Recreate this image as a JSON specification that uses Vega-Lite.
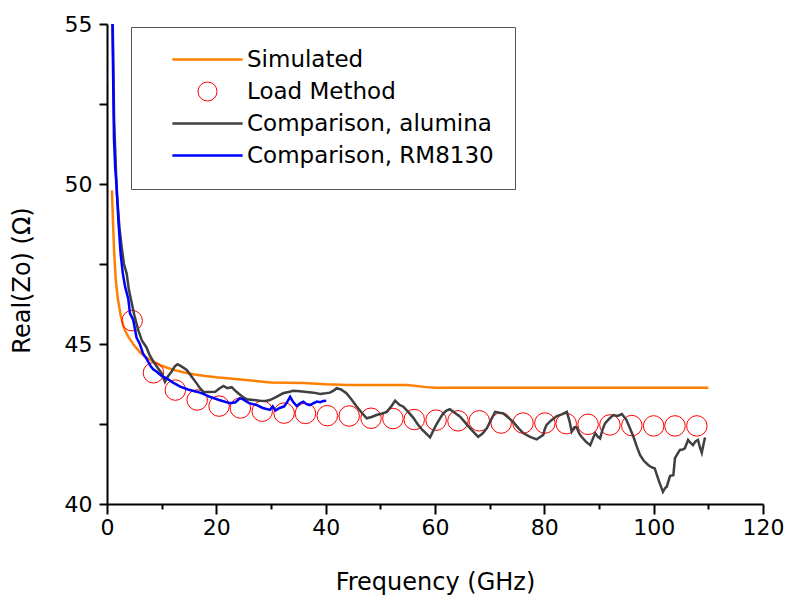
{
  "$schema": "https://vega.github.io/schema/vega-lite/v6.json",
  "width": 656,
  "height": 480,
  "autosize": "none",
  "padding": {"left": 107, "top": 24, "right": 25, "bottom": 96},
  "background": "white",
  "config": {
    "view": {"stroke": null},
    "font": "DejaVu Sans",
    "axis": {
      "grid": false,
      "domainColor": "black",
      "domainWidth": 2,
      "tickColor": "black",
      "tickWidth": 2,
      "labelFont": "DejaVu Sans",
      "labelFontSize": 22,
      "labelColor": "black",
      "titleFont": "DejaVu Sans",
      "titleFontSize": 24,
      "titleFontWeight": "normal",
      "titleColor": "black",
      "labelOverlap": false,
      "labelFlush": false
    }
  },
  "datasets": {
    "curves": [
      {"f": 0.9, "v": 49.8, "s": "Simulated"},
      {"f": 1.1, "v": 48.8, "s": "Simulated"},
      {"f": 1.3, "v": 47.9, "s": "Simulated"},
      {"f": 1.6, "v": 47.0, "s": "Simulated"},
      {"f": 2.0, "v": 46.4, "s": "Simulated"},
      {"f": 2.5, "v": 45.9, "s": "Simulated"},
      {"f": 3.0, "v": 45.55, "s": "Simulated"},
      {"f": 3.5, "v": 45.35, "s": "Simulated"},
      {"f": 4.0, "v": 45.2, "s": "Simulated"},
      {"f": 5.0, "v": 44.95, "s": "Simulated"},
      {"f": 6.0, "v": 44.75, "s": "Simulated"},
      {"f": 7.0, "v": 44.6, "s": "Simulated"},
      {"f": 8.0, "v": 44.5, "s": "Simulated"},
      {"f": 9.0, "v": 44.4, "s": "Simulated"},
      {"f": 10.0, "v": 44.32, "s": "Simulated"},
      {"f": 12.0, "v": 44.2, "s": "Simulated"},
      {"f": 14.0, "v": 44.12, "s": "Simulated"},
      {"f": 16.0, "v": 44.05, "s": "Simulated"},
      {"f": 18.0, "v": 44.0, "s": "Simulated"},
      {"f": 20.0, "v": 43.96, "s": "Simulated"},
      {"f": 24.0, "v": 43.9, "s": "Simulated"},
      {"f": 28.0, "v": 43.83, "s": "Simulated"},
      {"f": 30.0, "v": 43.8, "s": "Simulated"},
      {"f": 36.0, "v": 43.78, "s": "Simulated"},
      {"f": 40.0, "v": 43.74, "s": "Simulated"},
      {"f": 44.0, "v": 43.72, "s": "Simulated"},
      {"f": 50.0, "v": 43.72, "s": "Simulated"},
      {"f": 55.0, "v": 43.72, "s": "Simulated"},
      {"f": 58.0, "v": 43.66, "s": "Simulated"},
      {"f": 60.0, "v": 43.63, "s": "Simulated"},
      {"f": 70.0, "v": 43.63, "s": "Simulated"},
      {"f": 80.0, "v": 43.63, "s": "Simulated"},
      {"f": 90.0, "v": 43.63, "s": "Simulated"},
      {"f": 100.0, "v": 43.63, "s": "Simulated"},
      {"f": 110.0, "v": 43.63, "s": "Simulated"},

      {"f": 1.05, "v": 55.0, "s": "Comparison, alumina"},
      {"f": 1.3, "v": 52.0, "s": "Comparison, alumina"},
      {"f": 1.8, "v": 49.7, "s": "Comparison, alumina"},
      {"f": 2.3, "v": 48.6, "s": "Comparison, alumina"},
      {"f": 2.7, "v": 48.0, "s": "Comparison, alumina"},
      {"f": 3.1, "v": 47.5, "s": "Comparison, alumina"},
      {"f": 3.6, "v": 47.2, "s": "Comparison, alumina"},
      {"f": 4.0, "v": 46.7, "s": "Comparison, alumina"},
      {"f": 4.5, "v": 46.3, "s": "Comparison, alumina"},
      {"f": 5.0, "v": 45.9, "s": "Comparison, alumina"},
      {"f": 5.7, "v": 45.44, "s": "Comparison, alumina"},
      {"f": 6.4, "v": 45.1, "s": "Comparison, alumina"},
      {"f": 7.2, "v": 44.9, "s": "Comparison, alumina"},
      {"f": 7.8, "v": 44.65, "s": "Comparison, alumina"},
      {"f": 8.5, "v": 44.45, "s": "Comparison, alumina"},
      {"f": 9.3, "v": 44.25, "s": "Comparison, alumina"},
      {"f": 10.0, "v": 44.08, "s": "Comparison, alumina"},
      {"f": 10.6, "v": 43.82, "s": "Comparison, alumina"},
      {"f": 11.2, "v": 44.0, "s": "Comparison, alumina"},
      {"f": 11.8, "v": 44.13, "s": "Comparison, alumina"},
      {"f": 12.4, "v": 44.3, "s": "Comparison, alumina"},
      {"f": 12.9, "v": 44.37, "s": "Comparison, alumina"},
      {"f": 13.6, "v": 44.3, "s": "Comparison, alumina"},
      {"f": 14.6, "v": 44.19, "s": "Comparison, alumina"},
      {"f": 15.5, "v": 43.98, "s": "Comparison, alumina"},
      {"f": 16.4, "v": 43.77, "s": "Comparison, alumina"},
      {"f": 17.0, "v": 43.62, "s": "Comparison, alumina"},
      {"f": 17.6, "v": 43.51, "s": "Comparison, alumina"},
      {"f": 18.6, "v": 43.5, "s": "Comparison, alumina"},
      {"f": 19.8, "v": 43.51, "s": "Comparison, alumina"},
      {"f": 20.5, "v": 43.6, "s": "Comparison, alumina"},
      {"f": 21.3, "v": 43.69, "s": "Comparison, alumina"},
      {"f": 22.0, "v": 43.62, "s": "Comparison, alumina"},
      {"f": 22.8, "v": 43.65, "s": "Comparison, alumina"},
      {"f": 23.4, "v": 43.55, "s": "Comparison, alumina"},
      {"f": 24.0, "v": 43.46, "s": "Comparison, alumina"},
      {"f": 24.8, "v": 43.35, "s": "Comparison, alumina"},
      {"f": 25.6, "v": 43.27, "s": "Comparison, alumina"},
      {"f": 26.8, "v": 43.25, "s": "Comparison, alumina"},
      {"f": 28.0, "v": 43.23, "s": "Comparison, alumina"},
      {"f": 29.0, "v": 43.22, "s": "Comparison, alumina"},
      {"f": 29.8, "v": 43.25, "s": "Comparison, alumina"},
      {"f": 31.0, "v": 43.35, "s": "Comparison, alumina"},
      {"f": 32.2, "v": 43.46, "s": "Comparison, alumina"},
      {"f": 33.2, "v": 43.5, "s": "Comparison, alumina"},
      {"f": 34.1, "v": 43.54, "s": "Comparison, alumina"},
      {"f": 35.3, "v": 43.52, "s": "Comparison, alumina"},
      {"f": 36.5, "v": 43.5, "s": "Comparison, alumina"},
      {"f": 37.8, "v": 43.48, "s": "Comparison, alumina"},
      {"f": 39.0, "v": 43.44, "s": "Comparison, alumina"},
      {"f": 40.0, "v": 43.46, "s": "Comparison, alumina"},
      {"f": 40.8, "v": 43.48, "s": "Comparison, alumina"},
      {"f": 41.5, "v": 43.55, "s": "Comparison, alumina"},
      {"f": 42.0, "v": 43.62, "s": "Comparison, alumina"},
      {"f": 42.8, "v": 43.58, "s": "Comparison, alumina"},
      {"f": 43.8, "v": 43.46, "s": "Comparison, alumina"},
      {"f": 44.8, "v": 43.25, "s": "Comparison, alumina"},
      {"f": 45.7, "v": 43.04, "s": "Comparison, alumina"},
      {"f": 46.6, "v": 42.85, "s": "Comparison, alumina"},
      {"f": 47.5, "v": 42.68, "s": "Comparison, alumina"},
      {"f": 48.4, "v": 42.72, "s": "Comparison, alumina"},
      {"f": 49.3, "v": 42.78, "s": "Comparison, alumina"},
      {"f": 50.2, "v": 42.82, "s": "Comparison, alumina"},
      {"f": 51.2, "v": 42.88, "s": "Comparison, alumina"},
      {"f": 52.0, "v": 43.05, "s": "Comparison, alumina"},
      {"f": 52.7, "v": 43.23, "s": "Comparison, alumina"},
      {"f": 53.5, "v": 43.1, "s": "Comparison, alumina"},
      {"f": 54.2, "v": 43.04, "s": "Comparison, alumina"},
      {"f": 55.1, "v": 42.88, "s": "Comparison, alumina"},
      {"f": 56.0, "v": 42.7, "s": "Comparison, alumina"},
      {"f": 56.8, "v": 42.5, "s": "Comparison, alumina"},
      {"f": 57.6, "v": 42.33, "s": "Comparison, alumina"},
      {"f": 58.4, "v": 42.2, "s": "Comparison, alumina"},
      {"f": 59.1, "v": 42.08, "s": "Comparison, alumina"},
      {"f": 59.7, "v": 42.3, "s": "Comparison, alumina"},
      {"f": 60.3, "v": 42.5, "s": "Comparison, alumina"},
      {"f": 61.0, "v": 42.7, "s": "Comparison, alumina"},
      {"f": 61.5, "v": 42.83, "s": "Comparison, alumina"},
      {"f": 62.1, "v": 42.92, "s": "Comparison, alumina"},
      {"f": 62.7, "v": 42.96, "s": "Comparison, alumina"},
      {"f": 63.6, "v": 42.85, "s": "Comparison, alumina"},
      {"f": 64.6, "v": 42.73, "s": "Comparison, alumina"},
      {"f": 65.5, "v": 42.55, "s": "Comparison, alumina"},
      {"f": 66.4, "v": 42.37, "s": "Comparison, alumina"},
      {"f": 67.2, "v": 42.22, "s": "Comparison, alumina"},
      {"f": 67.9, "v": 42.1, "s": "Comparison, alumina"},
      {"f": 68.7, "v": 42.2, "s": "Comparison, alumina"},
      {"f": 69.5, "v": 42.37, "s": "Comparison, alumina"},
      {"f": 70.3, "v": 42.65, "s": "Comparison, alumina"},
      {"f": 71.0, "v": 42.88, "s": "Comparison, alumina"},
      {"f": 71.8, "v": 42.85, "s": "Comparison, alumina"},
      {"f": 72.5, "v": 42.83, "s": "Comparison, alumina"},
      {"f": 73.4, "v": 42.7, "s": "Comparison, alumina"},
      {"f": 74.3, "v": 42.57, "s": "Comparison, alumina"},
      {"f": 75.2, "v": 42.38, "s": "Comparison, alumina"},
      {"f": 76.2, "v": 42.21, "s": "Comparison, alumina"},
      {"f": 77.4, "v": 42.1, "s": "Comparison, alumina"},
      {"f": 78.6, "v": 42.02, "s": "Comparison, alumina"},
      {"f": 79.3, "v": 42.1, "s": "Comparison, alumina"},
      {"f": 79.8, "v": 42.16, "s": "Comparison, alumina"},
      {"f": 80.1, "v": 42.35, "s": "Comparison, alumina"},
      {"f": 80.4, "v": 42.47, "s": "Comparison, alumina"},
      {"f": 81.3, "v": 42.62, "s": "Comparison, alumina"},
      {"f": 82.3, "v": 42.75, "s": "Comparison, alumina"},
      {"f": 83.2, "v": 42.8, "s": "Comparison, alumina"},
      {"f": 84.1, "v": 42.88, "s": "Comparison, alumina"},
      {"f": 84.6, "v": 42.6, "s": "Comparison, alumina"},
      {"f": 85.0, "v": 42.26, "s": "Comparison, alumina"},
      {"f": 85.5, "v": 42.4, "s": "Comparison, alumina"},
      {"f": 85.9, "v": 42.4, "s": "Comparison, alumina"},
      {"f": 86.4, "v": 42.2, "s": "Comparison, alumina"},
      {"f": 86.8, "v": 42.1, "s": "Comparison, alumina"},
      {"f": 87.6, "v": 41.95, "s": "Comparison, alumina"},
      {"f": 88.4, "v": 41.84, "s": "Comparison, alumina"},
      {"f": 88.9, "v": 42.05, "s": "Comparison, alumina"},
      {"f": 89.3, "v": 42.21, "s": "Comparison, alumina"},
      {"f": 89.8, "v": 42.1, "s": "Comparison, alumina"},
      {"f": 90.2, "v": 42.05, "s": "Comparison, alumina"},
      {"f": 90.6, "v": 42.3, "s": "Comparison, alumina"},
      {"f": 91.1, "v": 42.52, "s": "Comparison, alumina"},
      {"f": 91.8, "v": 42.65, "s": "Comparison, alumina"},
      {"f": 92.6, "v": 42.78, "s": "Comparison, alumina"},
      {"f": 93.4, "v": 42.75, "s": "Comparison, alumina"},
      {"f": 94.2, "v": 42.81, "s": "Comparison, alumina"},
      {"f": 95.0, "v": 42.63, "s": "Comparison, alumina"},
      {"f": 95.7, "v": 42.35, "s": "Comparison, alumina"},
      {"f": 96.3, "v": 42.1, "s": "Comparison, alumina"},
      {"f": 96.9, "v": 41.8, "s": "Comparison, alumina"},
      {"f": 97.5, "v": 41.53, "s": "Comparison, alumina"},
      {"f": 98.2, "v": 41.35, "s": "Comparison, alumina"},
      {"f": 99.0, "v": 41.22, "s": "Comparison, alumina"},
      {"f": 99.6, "v": 41.15, "s": "Comparison, alumina"},
      {"f": 100.2, "v": 41.11, "s": "Comparison, alumina"},
      {"f": 100.7, "v": 40.85, "s": "Comparison, alumina"},
      {"f": 101.1, "v": 40.65, "s": "Comparison, alumina"},
      {"f": 101.7, "v": 40.38, "s": "Comparison, alumina"},
      {"f": 102.1, "v": 40.5, "s": "Comparison, alumina"},
      {"f": 102.4, "v": 40.54, "s": "Comparison, alumina"},
      {"f": 103.0, "v": 40.88, "s": "Comparison, alumina"},
      {"f": 103.6, "v": 40.9, "s": "Comparison, alumina"},
      {"f": 103.9, "v": 41.43, "s": "Comparison, alumina"},
      {"f": 104.3, "v": 41.55, "s": "Comparison, alumina"},
      {"f": 104.8, "v": 41.69, "s": "Comparison, alumina"},
      {"f": 105.3, "v": 41.7, "s": "Comparison, alumina"},
      {"f": 105.7, "v": 41.74, "s": "Comparison, alumina"},
      {"f": 106.3, "v": 42.0, "s": "Comparison, alumina"},
      {"f": 106.8, "v": 41.9, "s": "Comparison, alumina"},
      {"f": 107.2, "v": 41.84, "s": "Comparison, alumina"},
      {"f": 107.6, "v": 41.95, "s": "Comparison, alumina"},
      {"f": 108.1, "v": 42.0, "s": "Comparison, alumina"},
      {"f": 108.5, "v": 41.75, "s": "Comparison, alumina"},
      {"f": 108.8, "v": 41.6, "s": "Comparison, alumina"},
      {"f": 109.1, "v": 41.85, "s": "Comparison, alumina"},
      {"f": 109.4, "v": 42.08, "s": "Comparison, alumina"},

      {"f": 1.0, "v": 55.0, "s": "Comparison, RM8130"},
      {"f": 1.15, "v": 53.0, "s": "Comparison, RM8130"},
      {"f": 1.28, "v": 51.4, "s": "Comparison, RM8130"},
      {"f": 1.5, "v": 50.5, "s": "Comparison, RM8130"},
      {"f": 1.77, "v": 49.9, "s": "Comparison, RM8130"},
      {"f": 2.1, "v": 48.8, "s": "Comparison, RM8130"},
      {"f": 2.5, "v": 47.8, "s": "Comparison, RM8130"},
      {"f": 2.9, "v": 47.2, "s": "Comparison, RM8130"},
      {"f": 3.3, "v": 46.8, "s": "Comparison, RM8130"},
      {"f": 3.9, "v": 46.4, "s": "Comparison, RM8130"},
      {"f": 4.2, "v": 45.96, "s": "Comparison, RM8130"},
      {"f": 4.8, "v": 45.75, "s": "Comparison, RM8130"},
      {"f": 5.4, "v": 45.2, "s": "Comparison, RM8130"},
      {"f": 6.0, "v": 45.0, "s": "Comparison, RM8130"},
      {"f": 6.6, "v": 44.7, "s": "Comparison, RM8130"},
      {"f": 7.2, "v": 44.55, "s": "Comparison, RM8130"},
      {"f": 8.0, "v": 44.3, "s": "Comparison, RM8130"},
      {"f": 8.5, "v": 44.2, "s": "Comparison, RM8130"},
      {"f": 9.1, "v": 44.13, "s": "Comparison, RM8130"},
      {"f": 10.0, "v": 44.0, "s": "Comparison, RM8130"},
      {"f": 10.9, "v": 43.93, "s": "Comparison, RM8130"},
      {"f": 12.0, "v": 43.8, "s": "Comparison, RM8130"},
      {"f": 13.4, "v": 43.67, "s": "Comparison, RM8130"},
      {"f": 14.8, "v": 43.58, "s": "Comparison, RM8130"},
      {"f": 16.4, "v": 43.51, "s": "Comparison, RM8130"},
      {"f": 17.5, "v": 43.45, "s": "Comparison, RM8130"},
      {"f": 18.8, "v": 43.35, "s": "Comparison, RM8130"},
      {"f": 20.5, "v": 43.25, "s": "Comparison, RM8130"},
      {"f": 22.5, "v": 43.15, "s": "Comparison, RM8130"},
      {"f": 23.5, "v": 43.18, "s": "Comparison, RM8130"},
      {"f": 24.3, "v": 43.3, "s": "Comparison, RM8130"},
      {"f": 24.9, "v": 43.27, "s": "Comparison, RM8130"},
      {"f": 26.0, "v": 43.15, "s": "Comparison, RM8130"},
      {"f": 27.4, "v": 43.09, "s": "Comparison, RM8130"},
      {"f": 28.5, "v": 43.0, "s": "Comparison, RM8130"},
      {"f": 29.8, "v": 42.94, "s": "Comparison, RM8130"},
      {"f": 30.3, "v": 43.05, "s": "Comparison, RM8130"},
      {"f": 30.8, "v": 42.92, "s": "Comparison, RM8130"},
      {"f": 31.6, "v": 43.0, "s": "Comparison, RM8130"},
      {"f": 32.4, "v": 43.05, "s": "Comparison, RM8130"},
      {"f": 33.0, "v": 43.2, "s": "Comparison, RM8130"},
      {"f": 33.5, "v": 43.35, "s": "Comparison, RM8130"},
      {"f": 34.0, "v": 43.2, "s": "Comparison, RM8130"},
      {"f": 34.7, "v": 43.06, "s": "Comparison, RM8130"},
      {"f": 35.3, "v": 43.15, "s": "Comparison, RM8130"},
      {"f": 35.9, "v": 43.2, "s": "Comparison, RM8130"},
      {"f": 36.5, "v": 43.12, "s": "Comparison, RM8130"},
      {"f": 37.1, "v": 43.09, "s": "Comparison, RM8130"},
      {"f": 37.8, "v": 43.15, "s": "Comparison, RM8130"},
      {"f": 38.4, "v": 43.2, "s": "Comparison, RM8130"},
      {"f": 39.0, "v": 43.18, "s": "Comparison, RM8130"},
      {"f": 39.6, "v": 43.22, "s": "Comparison, RM8130"},
      {"f": 40.1, "v": 43.23, "s": "Comparison, RM8130"}
    ],
    "load": [
      {"f": 4.6, "v": 45.73, "s": "Load Method"},
      {"f": 8.5, "v": 44.1, "s": "Load Method"},
      {"f": 12.5, "v": 43.56, "s": "Load Method"},
      {"f": 16.5, "v": 43.25, "s": "Load Method"},
      {"f": 20.5, "v": 43.06, "s": "Load Method"},
      {"f": 24.4, "v": 43.0, "s": "Load Method"},
      {"f": 28.4, "v": 42.9, "s": "Load Method"},
      {"f": 32.4, "v": 42.84, "s": "Load Method"},
      {"f": 36.3, "v": 42.83, "s": "Load Method"},
      {"f": 40.3, "v": 42.76, "s": "Load Method"},
      {"f": 44.3, "v": 42.75, "s": "Load Method"},
      {"f": 48.3, "v": 42.68, "s": "Load Method"},
      {"f": 52.3, "v": 42.67, "s": "Load Method"},
      {"f": 56.2, "v": 42.64, "s": "Load Method"},
      {"f": 60.2, "v": 42.62, "s": "Load Method"},
      {"f": 64.2, "v": 42.6, "s": "Load Method"},
      {"f": 68.1, "v": 42.6, "s": "Load Method"},
      {"f": 72.1, "v": 42.53, "s": "Load Method"},
      {"f": 76.1, "v": 42.53, "s": "Load Method"},
      {"f": 80.1, "v": 42.53, "s": "Load Method"},
      {"f": 84.0, "v": 42.51, "s": "Load Method"},
      {"f": 88.0, "v": 42.49, "s": "Load Method"},
      {"f": 92.0, "v": 42.47, "s": "Load Method"},
      {"f": 96.0, "v": 42.45, "s": "Load Method"},
      {"f": 100.0, "v": 42.44, "s": "Load Method"},
      {"f": 103.9, "v": 42.44, "s": "Load Method"},
      {"f": 107.9, "v": 42.44, "s": "Load Method"}
    ]
  },
  "encoding": {
    "x": {
      "field": "f", "type": "quantitative",
      "scale": {"domain": [0, 120], "nice": false, "zero": false},
      "axis": {
        "title": "Frequency (GHz)",
        "values": [0, 10, 20, 30, 40, 50, 60, 70, 80, 90, 100, 110, 120],
        "labelExpr": "datum.value % 20 === 0 ? datum.label : ''",
        "tickSize": {"condition": {"test": "datum.value % 20 === 0", "value": 10}, "value": 5},
        "labelPadding": 3,
        "titlePadding": 32
      }
    },
    "y": {
      "field": "v", "type": "quantitative",
      "scale": {"domain": [40, 55], "nice": false, "zero": false},
      "axis": {
        "title": "Real(Zo) (Ω)",
        "values": [40, 42.5, 45, 47.5, 50, 52.5, 55],
        "labelExpr": "datum.value % 5 === 0 ? datum.label : ''",
        "tickSize": 8,
        "labelPadding": 7,
        "titlePadding": 30,
        "titleY": 256
      }
    },
    "color": {
      "field": "s", "type": "nominal",
      "scale": {
        "domain": ["Simulated", "Load Method", "Comparison, alumina", "Comparison, RM8130"],
        "range": ["#FF7F00", "#FF0000", "#404040", "#0000FF"]
      },
      "legend": {
        "title": null,
        "orient": "none",
        "legendX": 24,
        "legendY": 3,
        "strokeColor": "#555555",
        "fillColor": "white",
        "padding": 21,
        "symbolOffset": 44,
        "labelOffset": 28,
        "labelLimit": 600,
        "symbolSize": 361,
        "symbolStrokeWidth": 2.5,
        "labelFont": "DejaVu Sans",
        "labelFontSize": 23,
        "labelColor": "black",
        "rowPadding": 8,
        "encode": {
          "symbols": {
            "update": {
              "strokeWidth": {"signal": "datum.value === 'Load Method' ? 1 : 2.5"}
            }
          }
        }
      }
    },
    "shape": {
      "field": "s", "type": "nominal",
      "scale": {
        "domain": ["Simulated", "Load Method", "Comparison, alumina", "Comparison, RM8130"],
        "range": ["M-3.7,0H3.7", "circle", "M-3.7,0H3.7", "M-3.7,0H3.7"]
      },
      "legend": {"title": null}
    }
  },
  "layer": [
    {
      "data": {"name": "curves"},
      "transform": [{"filter": "datum.s === 'Simulated'"}],
      "mark": {"type": "line", "strokeWidth": 2.5, "clip": true, "interpolate": "linear"},
      "encoding": {"shape": null}
    },
    {
      "data": {"name": "load"},
      "mark": {"type": "point", "filled": false, "size": 420, "strokeWidth": 1, "opacity": 1},
      "encoding": {}
    },
    {
      "data": {"name": "curves"},
      "transform": [{"filter": "datum.s !== 'Simulated'"}],
      "mark": {"type": "line", "strokeWidth": 2.5, "clip": true},
      "encoding": {"shape": null}
    }
  ]
}
